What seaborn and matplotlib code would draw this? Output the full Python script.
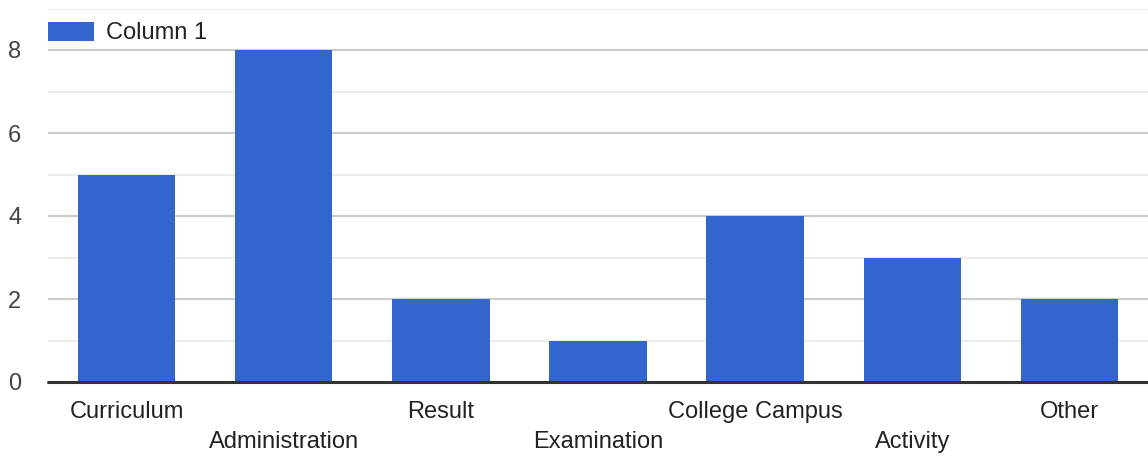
import pandas as pd
import matplotlib.pyplot as plt
import seaborn as sns

# values
categories = ['Curriculum', 'Administration', 'Result', 'Examination',
              'College Campus', 'Activity', 'Other']
counts = [5, 8, 2, 1, 4, 3, 2]

data = pd.DataFrame({'Category': categories, 'Column 1': counts})

sns.set_style('white')
plt.rcParams['font.family'] = ['Liberation Sans', 'DejaVu Sans']

fig = plt.figure(figsize=(11.48, 4.57), dpi=100)
ax = fig.add_axes([48 / 1148, 1 - 382 / 457, 1 - 48 / 1148, (382 - 8.5) / 457])

# gridlines: major at even values, minor at odd values
for v in range(1, 10):
    ax.axhline(v, color='#cccccc' if v % 2 == 0 else '#ebebeb', lw=1.5, zorder=0)

sns.barplot(data=data, x='Category', y='Column 1', color='#3366cc',
            width=0.62, saturation=1, linewidth=0, ax=ax, zorder=2,
            label='Column 1')
ax.axhline(0, color='#333333', lw=2.2, zorder=3, clip_on=False)

ax.set_ylim(0, 9)
ax.set_xlim(-0.5, len(categories) - 0.5)
ax.set_yticks([0, 2, 4, 6, 8])
ax.set_xlabel('')
ax.set_ylabel('')
for s in ax.spines.values():
    s.set_visible(False)

ax.tick_params(axis='y', length=0, pad=0, labelsize=17, labelcolor='#444444')
ax.tick_params(axis='x', length=0, labelsize=17, labelcolor='#222222')
for lab in ax.get_yticklabels():
    lab.set_horizontalalignment('left')
    lab.set_x(-40 / 1100)

# staggered category labels
for i, tick in enumerate(ax.xaxis.get_major_ticks()):
    tick.set_pad(13.5 if i % 2 == 0 else 35.5)

leg = ax.legend(loc='upper left', bbox_to_anchor=(48 / 1148, 1 - 21.5 / 457),
                bbox_transform=fig.transFigure, frameon=False, borderpad=0,
                borderaxespad=0, handlelength=1.95, handleheight=0.9,
                handletextpad=0.5, fontsize=17)
for t in leg.get_texts():
    t.set_color('#222222')

fig.savefig('out.png', dpi=100)
